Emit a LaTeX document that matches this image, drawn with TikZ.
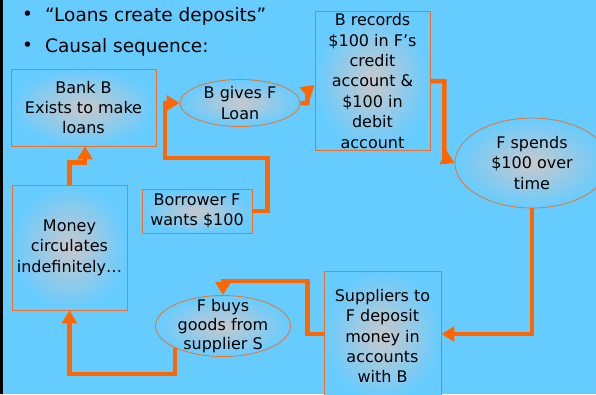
\documentclass[tikz,border=0pt]{standalone}
\usepackage{fontspec}
\setmainfont{DejaVu Sans}
\usetikzlibrary{shapes.geometric,arrows.meta,calc}
\definecolor{bgblue}{HTML}{66CCFF}
\definecolor{orng}{HTML}{FF6600}
\definecolor{bord}{HTML}{F07028}
\definecolor{mid}{HTML}{C8C8CC}
\tikzset{
  box/.style={draw=bord, line width=0.8pt, inner color=mid, outer color=bgblue,
    align=center, inner sep=0pt, font=\fontsize{16}{20.4}\selectfont},
  oval/.style={draw=bord, line width=0.8pt, inner color=mid, outer color=bgblue,
    ellipse, inner sep=0pt},
  lbl/.style={align=center, inner sep=0pt, font=\fontsize{16}{20.4}\selectfont},
  conn/.style={draw=orng, line width=4.5pt, line join=miter,
    -{Triangle[length=13pt,width=15pt]}},
  bullettxt/.style={anchor=west, inner sep=0pt, font=\fontsize{18.5}{22}\selectfont}
}
\begin{document}
\begin{tikzpicture}[x=1pt,y=-1pt]
\useasboundingbox (0,0) rectangle (596,394);
\clip (0,0) rectangle (596,394);
\fill[bgblue] (0,0) rectangle (596,394);
\fill[black] (0,0) rectangle (2.5,394);

\node[bullettxt] (b1) at (22,16) {\textbullet};
\node[bullettxt] (t1) at (45,16) {“Loans create deposits”};
\node[bullettxt] (b2) at (22,47) {\textbullet};
\node[bullettxt] (t2) at (45,47) {Causal sequence:};

\node[box, minimum width=145pt, minimum height=77pt] (bank) at (83.5,107.5) {Bank B\\Exists to make\\loans};
\node[oval, minimum width=120pt, minimum height=47pt] (gives) at (240,103) {};
\node[lbl] (givesT) at (gives.center) {B gives F\\Loan};
\node[box, minimum width=115pt, minimum height=139pt] (records) at (372.5,81) {B records\\\$100 in F’s\\credit\\account \&\\\$100 in\\debit\\account};
\node[oval, minimum width=154pt, minimum height=90pt] (spends) at (532,163) {};
\node[lbl] (spendsT) at (spends.center) {F spends\\\$100 over\\time};
\node[box, minimum width=110pt, minimum height=44pt] (borrower) at (197,211) {Borrower F\\wants \$100};
\node[box, minimum width=115pt, minimum height=125pt] (money) at (69.5,247.5) {Money\\circulates\\indefinitely…};
\node[oval, minimum width=135pt, minimum height=61pt] (buys) at (223,326) {};
\node[lbl, font=\fontsize{16}{18.8}\selectfont] (buysT) at (buys.center) {F buys\\goods from\\supplier S};
\node[box, minimum width=117pt, minimum height=130pt] (suppliers) at (382.5,336) {Suppliers to\\F deposit\\money in\\accounts\\with B};

\coordinate (c1) at (165,158);
\draw[conn] (money.north) -- ++(0,-22) -| ([xshift=1.5pt]bank.south);
\draw[conn] (borrower.east) -- ++(15,0) |- (c1) |- (gives.west);
\draw[conn] (gives.east) -- ++(7,0) -- ++(0,-12) -- ([yshift=-4pt]records.west);
\draw[conn] (records.east) -- ++(14,0) -- ++(0,77) -- (spends.west);
\draw[conn] (spends.south) |- ([yshift=2pt]suppliers.east);
\draw[conn] ([yshift=2pt]suppliers.west) -- ++(-16,0) |- ($(buys.north)+(0,-14)$) -- (buys.north);
\draw[conn] (buys.south west) -- ++(0,26) -| (money.south);
\end{tikzpicture}
\end{document}
